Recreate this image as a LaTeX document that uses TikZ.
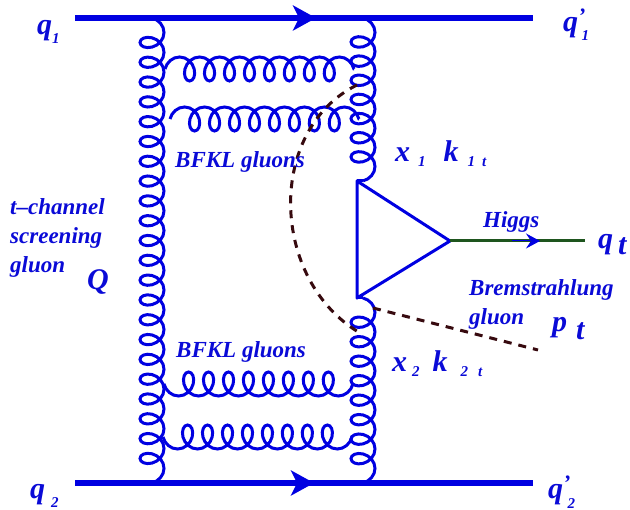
\documentclass[tikz,border=0pt]{standalone}
\usepackage{fontspec}
\setmainfont{Liberation Serif}
\usetikzlibrary{arrows.meta,decorations.pathmorphing}
\definecolor{fline}{RGB}{0,0,225}
\definecolor{lab}{RGB}{10,10,215}
\definecolor{dcut}{RGB}{55,10,15}
\definecolor{higgsc}{RGB}{30,85,30}
\newcommand{\subnum}[2]{\raisebox{#1}{\fontsize{15}{15}\selectfont #2}}
\begin{document}
\begin{tikzpicture}[x=1pt,y=-1pt,
    quark/.style={line width=6pt,fline},
    tip/.style={-{Stealth[length=23pt,width=25pt,inset=6pt]},fline,line width=6pt},
    gluon/.style={fline,line width=3pt,decorate,decoration={coil,amplitude=12pt,segment length=#1,aspect=0.8}},
    bfkl/.style={fline,line width=3pt,decorate,decoration={coil,amplitude=12pt,segment length=19.965pt,aspect=0.8,#1}},
    bfkl/.default={},
    cut/.style={line width=3pt,draw=dcut,dash pattern=on 8pt off 7pt},
    lbl/.style={text=lab,font=\fontsize{23}{29}\selectfont\bfseries\itshape,inner sep=0pt,align=left,anchor=west},
    big/.style={text=lab,font=\fontsize{30}{30}\selectfont\bfseries\itshape,inner sep=0pt,anchor=west}]
    \path[use as bounding box] (0,0) rectangle (630,510);

    % quark lines
    \coordinate (q1) at (75,18);
    \coordinate (q1m) at (316,18);
    \coordinate (q1e) at (533,18);
    \coordinate (q2) at (75,483);
    \coordinate (q2m) at (314,483);
    \coordinate (q2e) at (533,483);
    \draw[quark] (q1) -- (q1e);
    \draw[quark] (q2) -- (q2e);
    \draw[tip] (q1) -- (q1m);
    \draw[tip] (q2) -- (q2m);

    % t-channel gluons
    \coordinate (a) at (357,181);
    \coordinate (b) at (357,298);
    \coordinate (c) at (450,241);
    \coordinate (r1) at (363,18);
    \coordinate (r1e) at (363,181);
    \coordinate (r2) at (363,298);
    \coordinate (r2e) at (363,483);
    \draw[gluon=19.809pt] (152,18) -- (152,483);
    \draw[gluon=19.16pt] (r1) -- (r1e);
    \draw[gluon=19.494pt] (r2) -- (r2e);
    \draw[fline,line width=3pt] (r1e) -- (a);
    \draw[fline,line width=3pt] (r2) -- (b);

    % BFKL gluons
    \foreach \xa/\ya/\xb/\yb/\o in {165/69/354/69/,170/119/359/119/,164/384/353/384/mirror,163/437/352/437/mirror} {
        \draw[bfkl=\o] (\xa,\ya) -- (\xb,\yb);
    }

    % triangle
    \draw[fline,line width=3pt,line join=round] (a) -- (c) -- (b) -- cycle;
    \coordinate (h) at (585,241);
    \coordinate (hs) at (512,241);
    \coordinate (hm) at (540,241);
    \draw[line width=3pt,higgsc] (c) -- (h);
    \draw[fline,line width=1pt,-{Stealth[length=14pt,width=15pt,inset=5pt]}] (hs) -- (hm);

    % radiation
    \coordinate (d1) at (357,85);
    \coordinate (d2) at (360,333);
    \coordinate (d3) at (373,308);
    \coordinate (d4) at (538,350);
    \draw[cut] (d1) .. controls (266,130) and (270,280) .. (d2);
    \draw[cut] (d3) -- (d4);

    % labels
    \node[big] (tq1) at (37,32) {q\subnum{-9pt}{1}};
    \node[big] (tq2) at (30,496) {q\hspace{6pt}\subnum{-9pt}{2}};
    \node[big] (tq1p) at (563,25) {q\raisebox{8pt}{\fontsize{22}{22}\selectfont'}\kern-4pt\subnum{-9pt}{1}};
    \node[big] (tq2p) at (548,492) {q\raisebox{8pt}{\fontsize{22}{22}\selectfont'}\kern-3pt\subnum{-10pt}{2}};
    \node[lbl] (tchan) at (10,238) {t--channel\\screening\\gluon};
    \node[big] (tQ) at (87,282) {Q};
    \node[lbl] (bfkl1) at (175,162) {BFKL gluons};
    \node[lbl] (bfkl2) at (176,352) {BFKL gluons};
    \node[big] (tx1) at (395,154) {x\hspace{8pt}\subnum{-5pt}{1}\hspace{18pt}k\hspace{9pt}\subnum{-5pt}{1\hspace{7pt}t}};
    \node[big] (tx2) at (392,364) {x\hspace{5pt}\subnum{-5pt}{2}\hspace{13pt}k\hspace{13pt}\subnum{-5pt}{2\hspace{10pt}t}};
    \node[lbl] (thiggs) at (483,222) {Higgs};
    \node[big] (tqt) at (598,245) {q\hspace{5pt}\raisebox{-6pt}{t}};
    \node[lbl] (tbrem) at (469,290) {Bremstrahlung};
    \node[lbl] (tgl) at (469,319) {gluon};
    \node[big] (tpt) at (552,329) {p\hspace{9pt}\raisebox{-8pt}{t}};
\end{tikzpicture}
\end{document}
